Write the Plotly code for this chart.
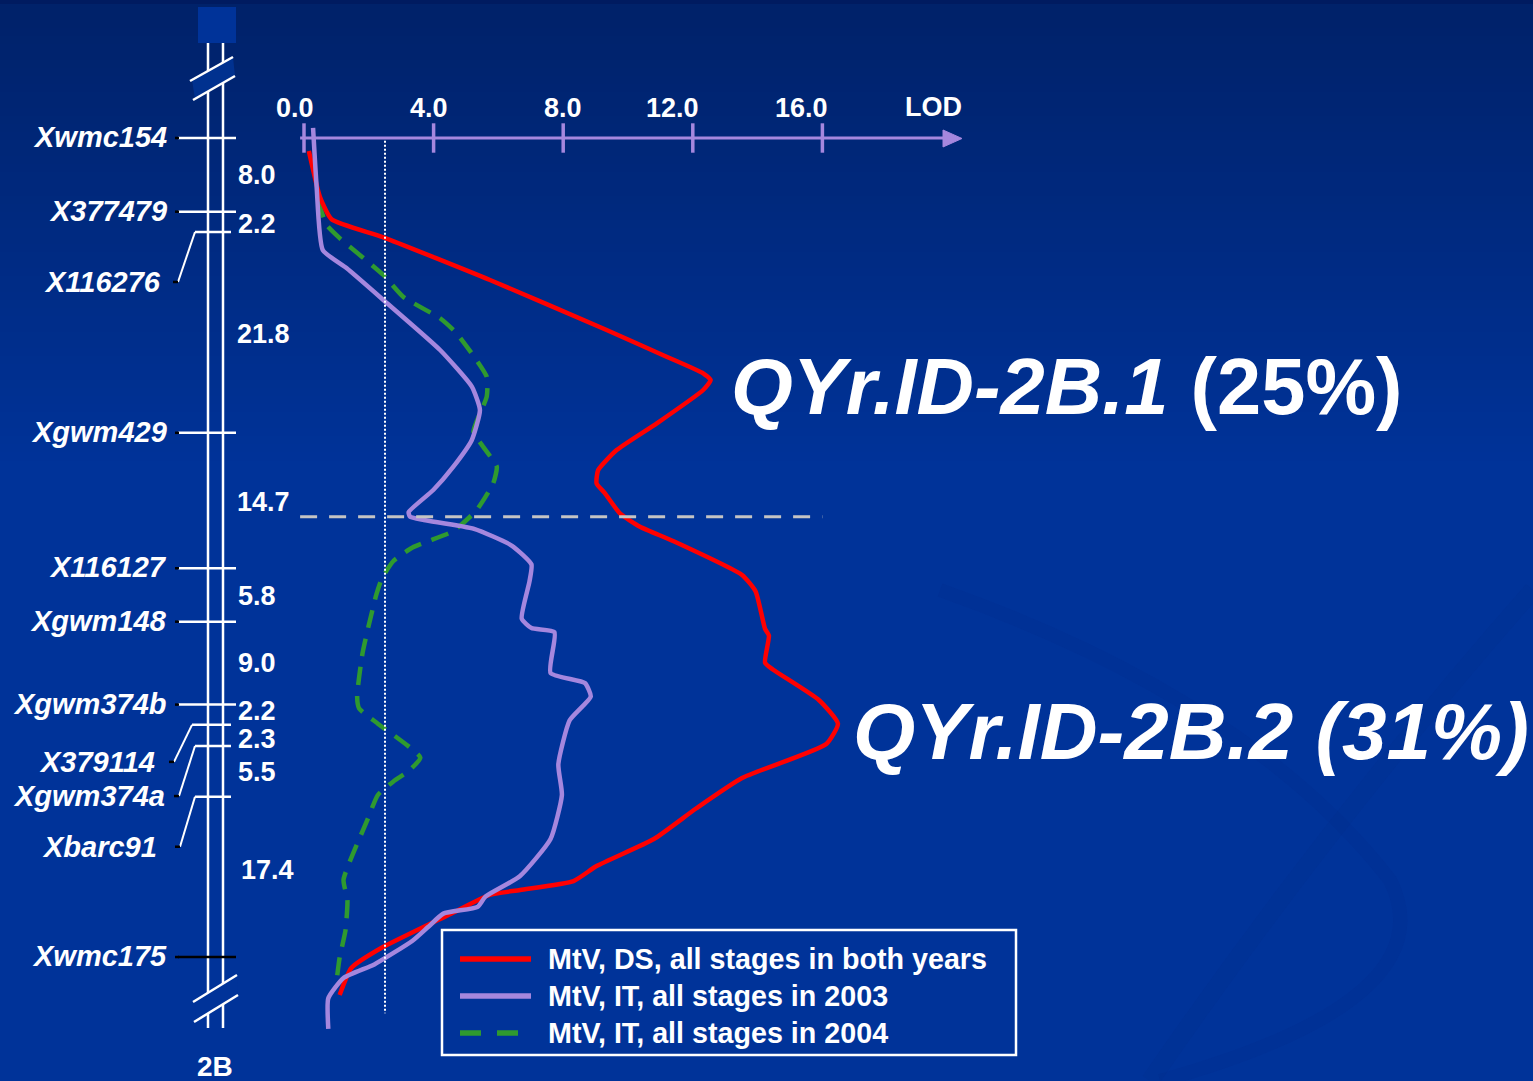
import numpy as np
import plotly.graph_objects as go

W, H = 1533, 1081

# ---------------- data ----------------
marker_names = ["Xwmc154", "X377479", "X116276", "Xgwm429", "X116127", "Xgwm148",
                "Xgwm374b", "X379114", "Xgwm374a", "Xbarc91", "Xwmc175"]
interval_cM = [8.0, 2.2, 21.8, 14.7, 5.8, 9.0, 2.2, 2.3, 5.5, 17.4]
chromosome = "2B"

lod_ticks = [0, 4, 8, 12, 16]
lod_tick_labels = ["0.0", "4.0", "8.0", "12.0", "16.0"]
lod_axis_title = "LOD"
lod_threshold = 2.5
qtl_boundary_cM = 41.1

qtl_names = ["QYr.ID-2B.1", "QYr.ID-2B.2"]
qtl_pve = ["25%", "31%"]

series_names = ["MtV, DS, all stages in both years",
                "MtV, IT, all stages in 2003",
                "MtV, IT, all stages in 2004"]

# MtV, DS, all stages in both years
ds_lod = [0.15, 0.49, 0.85, 2.45, 5.74, 9.34, 11.19, 12.32, 12.55, 12.32, 10.89, 9.65,
          9.08, 9.03, 9.29, 9.75, 10.37, 11.39, 13.52, 13.94, 14.23, 14.35, 14.23, 14.47,
          15.89, 16.48, 16.12, 13.52, 12.10, 10.80, 9.03, 8.32, 6.67, 5.71, 4.54, 2.41,
          1.46, 1.10]
ds_cM = [1.41, 6.37, 8.82, 10.78, 15.41, 20.84, 23.74, 25.54, 26.27, 27.35, 30.97, 33.87,
         36.04, 37.48, 38.57, 40.74, 42.19, 43.74, 47.43, 49.22, 53.29, 54.01, 56.95, 57.69,
         61.00, 63.57, 65.78, 69.47, 72.78, 76.09, 79.02, 80.65, 81.62, 82.17, 84.19, 87.87,
         90.09, 93.02]

# MtV, IT, all stages in 2003
it03_lod = [0.28, 0.39, 0.58, 1.32, 2.45, 4.20, 5.18, 5.43, 5.18, 4.61, 3.99, 3.23,
            3.27, 3.70, 5.25, 6.42, 7.02, 6.96, 6.72, 7.02, 7.73, 7.61, 8.67, 8.85,
            8.20, 7.85, 7.96, 7.61, 6.66, 5.60, 5.36, 4.30, 3.83, 3.35, 2.17, 1.22,
            0.75, 0.75]
it03_cM = [-1.09, 5.29, 12.16, 14.14, 17.58, 23.01, 26.99, 29.52, 32.78, 35.68, 38.21, 40.60,
           41.10, 41.46, 42.42, 44.26, 46.28, 48.13, 52.17, 53.19, 53.64, 58.06, 59.16, 60.63,
           63.20, 67.99, 71.31, 76.09, 80.14, 82.34, 83.45, 84.19, 85.64, 87.13, 89.70, 91.18,
           93.38, 96.69]

# MtV, IT, all stages in 2004
it04_lod = [0.43, 0.49, 0.70, 1.11, 2.45, 3.06, 4.20, 4.71, 5.64, 5.64, 5.23, 5.53,
            5.95, 5.84, 5.33, 4.89, 4.54, 3.35, 2.76, 2.41, 2.23, 1.81, 1.64, 1.70,
            2.28, 3.59, 3.23, 2.76, 2.28, 1.93, 1.22, 1.34, 1.28, 1.10, 0.99]
it04_cM = [6.73, 7.46, 9.44, 10.89, 14.87, 17.23, 19.57, 21.20, 25.91, 28.08, 31.88, 33.51,
           35.68, 37.48, 40.38, 41.86, 42.79, 44.45, 45.91, 47.76, 49.60, 55.85, 60.63, 61.92,
           63.57, 67.25, 68.71, 69.84, 71.31, 74.24, 80.51, 82.71, 86.02, 88.96, 91.90]

marker_cM = [0.0] + list(np.round(np.cumsum(interval_cM), 2))
interval_mid = [(a + b) / 2 for a, b in zip(marker_cM[:-1], marker_cM[1:])]

# ---------------- geometry / styling ----------------
X0, XS = 304.0, 32.4      # px of LOD 0, px per LOD unit
Y0, YS = 138.0, 9.213     # px of 0 cM, px per cM


def py_of(cm):
    return Y0 + YS * cm


def fx(px):
    return px / W


def fy(py):
    return 1 - py / H


FONT = "Arial, 'Liberation Sans', sans-serif"
WHITE = "#ffffff"
RED = "#ff0000"
PURPLE = "#a587de"
GREEN = "#2f9a2f"
BG = "#003399"

fig = go.Figure()

# LOD axis line and ticks (drawn from data)
fig.add_trace(go.Scatter(x=[-0.12, 19.75], y=[0, 0], mode="lines",
                         line=dict(color=PURPLE, width=3), hoverinfo="skip", showlegend=False))
fig.add_trace(go.Scatter(x=lod_ticks, y=[0] * len(lod_ticks), mode="markers",
                         marker=dict(symbol="line-ns", size=21,
                                     line=dict(color=PURPLE, width=3.5)),
                         hoverinfo="skip", showlegend=False))

# LOD curves
fig.add_trace(go.Scatter(x=it04_lod, y=it04_cM, mode="lines", name=series_names[2],
                         line=dict(color=GREEN, width=4.5, dash="18px,11px",
                                   shape="spline", smoothing=0.5),
                         showlegend=False))
fig.add_trace(go.Scatter(x=ds_lod, y=ds_cM, mode="lines", name=series_names[0],
                         line=dict(color=RED, width=4.5, shape="spline", smoothing=0.5),
                         showlegend=False))
fig.add_trace(go.Scatter(x=it03_lod, y=it03_cM, mode="lines", name=series_names[1],
                         line=dict(color=PURPLE, width=4.5, shape="spline", smoothing=0.5),
                         showlegend=False))

shapes = []
annotations = []

# background gradient
c_top = np.array([0x00, 0x22, 0x6a])
c_bot = np.array([0x00, 0x33, 0x99])
y_start, y_end, step = 4, 460, 8
shapes.append(dict(type="rect", xref="paper", yref="paper", x0=0, x1=1,
                   y0=fy(y_start), y1=1, fillcolor="#001b60", line_width=0, layer="below"))
for yy in range(y_start, y_end, step):
    t = (yy - y_start) / (y_end - y_start)
    c = (c_top + (c_bot - c_top) * t).astype(int)
    shapes.append(dict(type="rect", xref="paper", yref="paper", x0=0, x1=1,
                       y0=fy(yy + step + 1), y1=fy(yy),
                       fillcolor="rgb(%d,%d,%d)" % tuple(c), line_width=0, layer="below"))

# very subtle swoosh on the lower right
shapes.append(dict(type="path", xref="paper", yref="paper", layer="below",
                   path="M %f,%f Q %f,%f %f,%f Q %f,%f %f,%f" % (
                       fx(940), fy(590), fx(1250), fy(700), fx(1390), fy(880),
                       fx(1450), fy(1000), fx(1160), fy(1081)),
                   line=dict(color="rgba(0,30,110,0.07)", width=14)))
shapes.append(dict(type="path", xref="paper", yref="paper", layer="below",
                   path="M %f,%f Q %f,%f %f,%f" % (fx(1150), fy(1081), fx(1330), fy(820), fx(1533), fy(590)),
                   line=dict(color="rgba(0,30,110,0.06)", width=18)))

# LOD axis arrow head
shapes.append(dict(type="path", xref="paper", yref="paper",
                   path="M %f,%f L %f,%f L %f,%f Z" % (fx(943), fy(130), fx(962), fy(138.5), fx(943), fy(147)),
                   fillcolor=PURPLE, line=dict(color=PURPLE, width=1)))

# threshold (dotted) and QTL boundary (dashed)
shapes.append(dict(type="line", xref="x", yref="y", x0=lod_threshold, x1=lod_threshold,
                   y0=0.3, y1=95.0, line=dict(color=WHITE, width=2, dash="2px,2px")))
shapes.append(dict(type="line", xref="x", yref="y", x0=-0.12, x1=16.0,
                   y0=qtl_boundary_cM, y1=qtl_boundary_cM,
                   line=dict(color="#c4c4c4", width=3, dash="17px,12px")))

# chromosome
LX, RX = 208, 223
shapes.append(dict(type="rect", xref="paper", yref="paper", x0=fx(198), x1=fx(236),
                   y0=fy(43), y1=fy(7), fillcolor=BG, line_width=0))
for xx in (LX, RX):
    shapes.append(dict(type="line", xref="paper", yref="paper", x0=fx(xx), x1=fx(xx),
                       y0=fy(43), y1=fy(1028), line=dict(color=WHITE, width=2.5)))
# breaks
for (a, b, c, d, fill) in [((192, 80), (233, 57), (235, 76), (195, 99), "#00318f"),
                           ((195, 1001), (237, 975), (238, 995), (196, 1021), BG)]:
    shapes.append(dict(type="path", xref="paper", yref="paper",
                       path="M %f,%f L %f,%f L %f,%f L %f,%f Z" % (fx(a[0]), fy(a[1]), fx(b[0]), fy(b[1]),
                                                                  fx(c[0]), fy(c[1]), fx(d[0]), fy(d[1])),
                       fillcolor=fill, line_width=0))
    shapes.append(dict(type="line", xref="paper", yref="paper", x0=fx(a[0] - 2), y0=fy(a[1] + 1),
                       x1=fx(b[0]), y1=fy(b[1]), line=dict(color=WHITE, width=2.5)))
    shapes.append(dict(type="line", xref="paper", yref="paper", x0=fx(d[0] - 2), y0=fy(d[1] + 1),
                       x1=fx(c[0]), y1=fy(c[1]), line=dict(color=WHITE, width=2.5)))

# marker ticks and labels
leader = {  # name: (label offset px below marker, leader end x, label right x, tick start x)
    "X116276": (50, 178, 163, 195),
    "X379114": (37, 174, 157, 192),
    "Xgwm374a": (50, 179, 167, 195),
    "Xbarc91": (50, 180, 159, 195),
}
for name, cm in zip(marker_names, marker_cM):
    py = py_of(cm)
    if name in leader:
        dy, ex, lx, sx = leader[name]
        shapes.append(dict(type="line", xref="paper", yref="paper", x0=fx(sx), x1=fx(231),
                           y0=fy(py), y1=fy(py), line=dict(color=WHITE, width=2.5)))
        shapes.append(dict(type="line", xref="paper", yref="paper", x0=fx(sx), x1=fx(ex),
                           y0=fy(py), y1=fy(py + dy), line=dict(color=WHITE, width=2)))
        shapes.append(dict(type="line", xref="paper", yref="paper", x0=fx(ex - 5), x1=fx(ex),
                           y0=fy(py + dy), y1=fy(py + dy), line=dict(color="#000000", width=2.5)))
        ly, rx = py + dy, lx
    else:
        col = "#000000" if name == "Xwmc175" else WHITE
        shapes.append(dict(type="line", xref="paper", yref="paper", x0=fx(178), x1=fx(236),
                           y0=fy(py), y1=fy(py), line=dict(color=col, width=2.5)))
        shapes.append(dict(type="line", xref="paper", yref="paper", x0=fx(175), x1=fx(179),
                           y0=fy(py), y1=fy(py), line=dict(color="#000000", width=2.5)))
        ly, rx = py - 1, 169
    annotations.append(dict(xref="paper", yref="paper", x=fx(rx), y=fy(ly), xanchor="right",
                            yanchor="middle", showarrow=False,
                            text="<b><i>%s</i></b>" % name,
                            font=dict(family=FONT, size=29, color=WHITE)))

# interval distances (small vertical nudges in px so close labels don't collide)
interval_nudge = [0, 2, 2, 1, 1, 0, -4, 4, 1, -7]
interval_x = [236, 236, 235, 235, 236, 236, 236, 236, 236, 239]
for d, m, nd, ix in zip(interval_cM, interval_mid, interval_nudge, interval_x):
    annotations.append(dict(xref="paper", yref="paper", x=fx(ix), y=fy(py_of(m) + nd), xanchor="left",
                            yanchor="middle", showarrow=False, text="<b>%.1f</b>" % d,
                            font=dict(family=FONT, size=27, color=WHITE)))

annotations.append(dict(xref="paper", yref="paper", x=fx(215), y=fy(1066), xanchor="center",
                        yanchor="middle", showarrow=False, text="<b>%s</b>" % chromosome,
                        font=dict(family=FONT, size=28, color=WHITE)))

# LOD tick labels
label_shift = [-9, -5, 0, -20, -21]
for v, lab, sh in zip(lod_ticks, lod_tick_labels, label_shift):
    annotations.append(dict(xref="x", yref="paper", x=v, y=fy(108), xshift=sh, xanchor="center",
                            yanchor="middle", showarrow=False, text="<b>%s</b>" % lab,
                            font=dict(family=FONT, size=27, color=WHITE)))
annotations.append(dict(xref="paper", yref="paper", x=fx(933), y=fy(107), xanchor="center",
                        yanchor="middle", showarrow=False, text="<b>%s</b>" % lod_axis_title,
                        font=dict(family=FONT, size=27, color=WHITE)))

# QTL labels
annotations.append(dict(xref="paper", yref="paper", x=fx(729), y=fy(386), xanchor="left",
                        yanchor="middle", showarrow=False,
                        text="<b><i>%s</i> (%s)</b>" % (qtl_names[0], qtl_pve[0]),
                        font=dict(family=FONT, size=79.5, color=WHITE)))
annotations.append(dict(xref="paper", yref="paper", x=fx(851), y=fy(731), xanchor="left",
                        yanchor="middle", showarrow=False,
                        text="<b><i>%s (%s)</i></b>" % (qtl_names[1], qtl_pve[1]),
                        font=dict(family=FONT, size=80, color=WHITE)))

# legend box
shapes.append(dict(type="rect", xref="paper", yref="paper", x0=fx(442), x1=fx(1016),
                   y0=fy(1055), y1=fy(930), line=dict(color=WHITE, width=2.5),
                   fillcolor="rgba(0,0,0,0)"))
leg_rows = [(959, RED, "solid"), (996, PURPLE, "solid"), (1033, GREEN, "21px,16px")]
for (yy, col, dash), nm in zip(leg_rows, series_names):
    shapes.append(dict(type="line", xref="paper", yref="paper", x0=fx(460), x1=fx(531 if dash == "solid" else 519),
                       y0=fy(yy), y1=fy(yy), line=dict(color=col, width=5.5, dash=dash)))
    annotations.append(dict(xref="paper", yref="paper", x=fx(546), y=fy(yy), xanchor="left",
                            yanchor="middle", showarrow=False, text="<b>%s</b>" % nm,
                            font=dict(family=FONT, size=28.7, color=WHITE)))

fig.update_layout(
    width=W, height=H, margin=dict(l=0, r=0, t=0, b=0, pad=0),
    paper_bgcolor=BG, plot_bgcolor="rgba(0,0,0,0)",
    xaxis=dict(range=[(0 - X0) / XS, (W - X0) / XS], visible=False, fixedrange=True),
    yaxis=dict(range=[(H - Y0) / YS, (0 - Y0) / YS], visible=False, fixedrange=True),
    shapes=shapes, annotations=annotations, showlegend=False,
)

fig.write_html("out.html", config={"displayModeBar": False},
               post_script="document.body.style.margin='0';document.body.style.overflow='hidden';")
